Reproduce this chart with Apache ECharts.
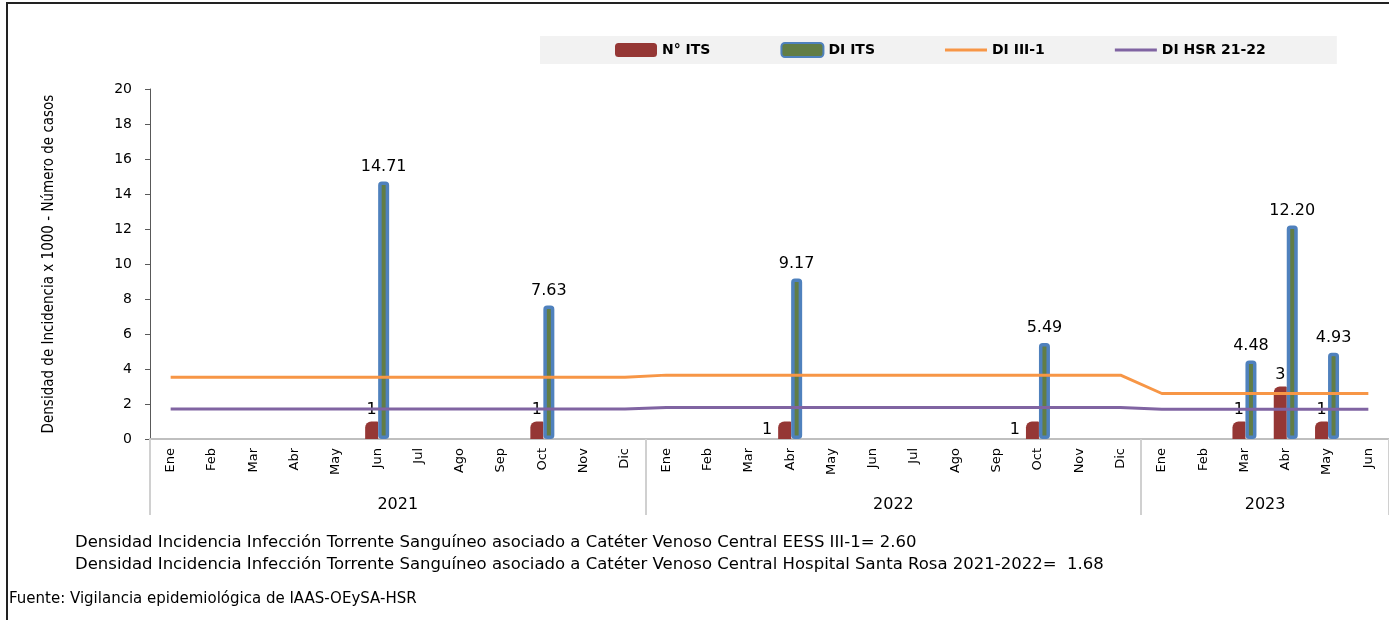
<!DOCTYPE html>
<html>
<head>
<meta charset="utf-8">
<script src="https://cdn.jsdelivr.net/npm/echarts@6/dist/echarts.min.js"></script>
<style>
  html, body { margin: 0; padding: 0; background: #fff; overflow: hidden; }
  #chart { width: 1389px; height: 620px; }
  .frame {
    position: absolute; left: 6px; top: 2px; width: 1400px; height: 640px;
    border-left: 2px solid #222; border-top: 2px solid #222; pointer-events: none;
  }
</style>
</head>
<body>
<div id="chart"></div>
<div class="frame"></div>
<script>
// meses (eje X), años y cantidad de meses por año
const months = [
  'Ene', 'Feb', 'Mar', 'Abr', 'May', 'Jun', 'Jul', 'Ago', 'Sep', 'Oct', 'Nov', 'Dic',
  'Ene', 'Feb', 'Mar', 'Abr', 'May', 'Jun', 'Jul', 'Ago', 'Sep', 'Oct', 'Nov', 'Dic',
  'Ene', 'Feb', 'Mar', 'Abr', 'May', 'Jun'
]
const years = ['2021', '2022', '2023']
const monthsPerYear = [12, 12, 6]

// N° de casos ITS
const nIts = [
  null, null, null, null, null, 1, null, null, null, 1, null, null,
  null, null, null, 1, null, null, null, null, null, 1, null, null,
  null, null, 1, 3, 1, null
]
// Densidad de incidencia ITS
const diIts = [
  null, null, null, null, null, 14.71, null, null, null, 7.63, null, null,
  null, null, null, 9.17, null, null, null, null, null, 5.49, null, null,
  null, null, 4.48, 12.20, 4.93, null
]
// DI EESS III-1
const diIII = [
  3.53, 3.53, 3.53, 3.53, 3.53, 3.53, 3.53, 3.53, 3.53, 3.53, 3.53, 3.53,
  3.65, 3.65, 3.65, 3.65, 3.65, 3.65, 3.65, 3.65, 3.65, 3.65, 3.65, 3.65,
  2.60, 2.60, 2.60, 2.60, 2.60, 2.60
]
// DI HSR 2021-2022
const diHsr = [
  1.72, 1.72, 1.72, 1.72, 1.72, 1.72, 1.72, 1.72, 1.72, 1.72, 1.72, 1.72,
  1.80, 1.80, 1.80, 1.80, 1.80, 1.80, 1.80, 1.80, 1.80, 1.80, 1.80, 1.80,
  1.70, 1.70, 1.70, 1.70, 1.70, 1.70
]

const yTicks = { min: 0, max: 20, interval: 2 }

const noteLines = [
  'Densidad Incidencia Infección Torrente Sanguíneo asociado a Catéter Venoso Central EESS III-1= 2.60',
  'Densidad Incidencia Infección Torrente Sanguíneo asociado a Catéter Venoso Central Hospital Santa Rosa 2021-2022=  1.68'
]
const sourceText = 'Fuente: Vigilancia epidemiológica de IAAS-OEySA-HSR'

// límites y centros de cada año en unidades de mes
const yearBounds = [0]
monthsPerYear.forEach(n => yearBounds.push(yearBounds[yearBounds.length - 1] + n))
const yearCenters = years.map((y, i) => (yearBounds[i] + yearBounds[i + 1]) / 2)

// etiquetas "1" que van a la izquierda de la barra
const leftLabelIdx = [15, 21]

const font = 'DejaVu Sans'
const lineIcon = 'path://M0,0 H40 V3 H0 Z'
const chart = echarts.init(document.getElementById('chart'))

const option = {
  animation: false,
  textStyle: { fontFamily: font },
  legend: {
    left: 540,
    top: 36,
    padding: [6, 71, 6, 75],
    itemGap: 70,
    itemWidth: 42,
    itemHeight: 14,
    backgroundColor: '#f2f2f2',
    textStyle: { fontFamily: font, fontWeight: 'bold', fontSize: 14, color: '#000' },
    data: [
      { name: 'N° ITS' },
      { name: 'DI ITS' },
      { name: 'DI III-1', icon: lineIcon },
      { name: 'DI HSR 21-22', icon: lineIcon }
    ]
  },
  grid: { left: 150, top: 89, width: 1244, height: 350, containLabel: false },
  xAxis: [
    {
      type: 'category',
      data: months,
      axisLine: { lineStyle: { color: '#bfbfbf', width: 2 } },
      axisTick: { show: false },
      axisLabel: { interval: 0, rotate: 90, margin: 9, fontSize: 13, color: '#000', fontFamily: font }
    },
    {
      type: 'value',
      position: 'bottom',
      min: 0,
      max: yearBounds[yearBounds.length - 1],
      axisLine: { show: false },
      splitLine: { show: false },
      axisTick: {
        show: true,
        customValues: yearBounds,
        length: 76,
        lineStyle: { color: '#d0d0d0', width: 2 }
      },
      axisLabel: {
        customValues: yearCenters,
        formatter: v => years[yearCenters.indexOf(v)] || '',
        margin: 58,
        fontSize: 16,
        color: '#000',
        fontFamily: font
      }
    }
  ],
  yAxis: {
    type: 'value',
    min: yTicks.min,
    max: yTicks.max,
    interval: yTicks.interval,
    name: 'Densidad de Incidencia x 1000 - Número de casos',
    nameLocation: 'middle',
    nameGap: 93,
    nameTextStyle: { fontFamily: 'DejaVu Sans Condensed', fontSize: 15, color: '#000' },
    axisLine: { show: true, lineStyle: { color: '#595959', width: 1 } },
    axisTick: { show: true, length: 5, lineStyle: { color: '#595959' } },
    axisLabel: { margin: 18, fontSize: 14, color: '#000', fontFamily: font },
    splitLine: { show: false }
  },
  series: [
    {
      name: 'N° ITS',
      type: 'bar',
      xAxisIndex: 0,
      barWidth: 13,
      barGap: '0%',
      data: nIts.map((v, i) => (v != null && leftLabelIdx.includes(i))
        ? { value: v, label: { position: 'left', distance: 6 } }
        : v),
      itemStyle: { color: '#953735', borderRadius: [6, 1, 0, 0] },
      label: { show: true, position: 'top', distance: 4, fontSize: 16, color: '#000', fontFamily: font }
    },
    {
      name: 'DI ITS',
      type: 'bar',
      xAxisIndex: 0,
      barWidth: 11,
      barGap: '0%',
      data: diIts,
      itemStyle: { color: '#627d45', borderColor: '#4f81bd', borderWidth: 3.5, borderRadius: 2 },
      label: {
        show: true, position: 'top', distance: 7, fontSize: 16, color: '#000', fontFamily: font,
        formatter: p => p.value.toFixed(2)
      }
    },
    {
      name: 'DI III-1',
      type: 'line',
      xAxisIndex: 0,
      symbol: 'none',
      data: diIII,
      lineStyle: { color: '#f79646', width: 3 },
      itemStyle: { color: '#f79646' },
      z: 3
    },
    {
      name: 'DI HSR 21-22',
      type: 'line',
      xAxisIndex: 0,
      symbol: 'none',
      data: diHsr,
      lineStyle: { color: '#8064a2', width: 3 },
      itemStyle: { color: '#8064a2' },
      z: 3
    }
  ],
  graphic: [
    { type: 'text', left: 75, top: 534, style: { text: noteLines[0], fontFamily: font, fontSize: 16.5, fill: '#000' } },
    { type: 'text', left: 75, top: 556, style: { text: noteLines[1], fontFamily: font, fontSize: 16.5, fill: '#000' } },
    { type: 'text', left: 9, top: 592, style: { text: sourceText, fontFamily: font, fontSize: 15, fill: '#000' } }
  ]
}

chart.setOption(option)
</script>
</body>
</html>
